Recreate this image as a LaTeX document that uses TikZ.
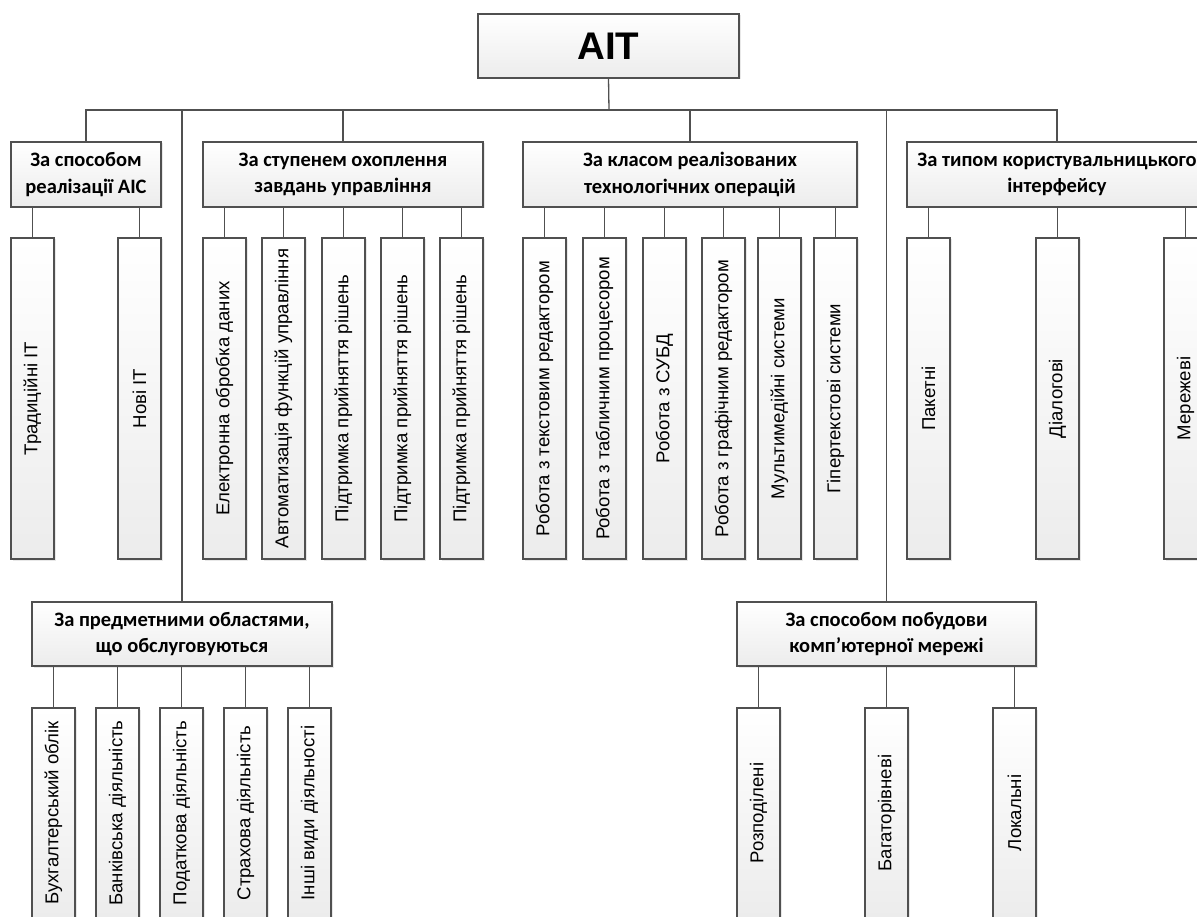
\documentclass[tikz,border=0pt]{standalone}
\usepackage{fontspec}
\setmainfont{Carlito}
\newfontfamily\aitfont{Liberation Sans}
\usetikzlibrary{shadows}
\definecolor{linec}{RGB}{80,80,80}
\definecolor{boxbot}{RGB}{236,236,236}
\begin{document}
\begin{tikzpicture}[x=1pt,y=-1pt,
  box/.style={draw=linec, line width=1.2pt, top color=white, bottom color=boxbot,
    drop shadow={shadow xshift=1.5pt, shadow yshift=-1.5pt, fill=black, opacity=0.09},
    inner sep=0pt, outer sep=0pt, anchor=north west},
  hdr/.style={box, font=\bfseries\fontsize{20.5}{26.8}\selectfont, align=center, minimum height=65pt},
  leaf/.style={box, minimum width=43pt, font=\aitfont\fontsize{18.6}{22}\selectfont},
  conn/.style={draw=linec, line width=1.3pt}]
\useasboundingbox (0,0) rectangle (1197,917);
\clip (0,0) rectangle (1197,917);

\node[box, minimum width=261pt, minimum height=64pt, font=\aitfont\bfseries\fontsize{38.5}{40}\selectfont] (ait) at (478,14) {АІТ};

\node[hdr, minimum width=150pt] (h1) at (11,142) {За способом\\реалізації АІС};
\node[hdr, minimum width=280pt] (h2) at (203,142) {За ступенем охоплення\\завдань управління};
\node[hdr, minimum width=334pt] (h3) at (523,142) {За класом реалізованих\\технологічних операцій};
\node[hdr, minimum width=300pt] (h4) at (907,142) {За типом користувальницького\\інтерфейсу};
\node[hdr, minimum width=300pt, minimum height=64pt] (b1) at (32,602) {За предметними областями,\\що обслуговуються};
\node[hdr, minimum width=299pt, minimum height=64pt] (b2) at (737,602) {За способом побудови\\комп’ютерної мережі};

\coordinate (bus) at (609,110);
\draw[conn] (ait.south) -- (bus);
\draw[conn] (h1.north) -- (h1.north |- bus) -- (h4.north |- bus) -- (h4.north);
\draw[conn] (h2.north) -- (h2.north |- bus);
\draw[conn] (h3.north) -- (h3.north |- bus);
\draw[conn] (b1.north) -- (b1.north |- bus);
\draw[conn] (b2.north) -- (b2.north |- bus);

\foreach \x/\t [count=\i] in {11/{Традиційні ІТ}, 118/{Нові ІТ}} {
  \node[leaf, minimum height=321pt] (g1-\i) at (\x,238) {\rotatebox{90}{\t}};
  \draw[conn] (g1-\i.north) -- (g1-\i.north |- h1.south);
}
\foreach \x/\t [count=\i] in {203/{Електронна обробка даних}, 262/{Автоматизація функцій управління}, 322/{Підтримка прийняття рішень}, 381/{Підтримка прийняття рішень}, 440/{Підтримка прийняття рішень}} {
  \node[leaf, minimum height=321pt] (g2-\i) at (\x,238) {\rotatebox{90}{\t}};
  \draw[conn] (g2-\i.north) -- (g2-\i.north |- h2.south);
}
\foreach \x/\t [count=\i] in {523/{Робота з текстовим редактором}, 583/{Робота з табличним процесором}, 643/{Робота з СУБД}, 702/{Робота з графічним редактором}, 758/{Мультимедійні системи}, 814/{Гіпертекстові системи}} {
  \node[leaf, minimum height=321pt] (g3-\i) at (\x,238) {\rotatebox{90}{\t}};
  \draw[conn] (g3-\i.north) -- (g3-\i.north |- h3.south);
}
\foreach \x/\t [count=\i] in {907/{Пакетні}, 1036/{Діалогові}, 1164/{Мережеві}} {
  \node[leaf, minimum height=321pt] (g4-\i) at (\x,238) {\rotatebox{90}{\t}};
  \draw[conn] (g4-\i.north) -- (g4-\i.north |- h4.south);
}
\foreach \x/\t [count=\i] in {32/{Бухгалтерський облік}, 96/{Банківська діяльність}, 160/{Податкова діяльність}, 224/{Страхова діяльність}, 288/{Інші види діяльності}} {
  \node[leaf, minimum height=210pt] (g5-\i) at (\x,708) {\rotatebox{90}{\t}};
  \draw[conn] (g5-\i.north) -- (g5-\i.north |- b1.south);
}
\foreach \x/\t [count=\i] in {737/{Розподілені}, 865/{Багаторівневі}, 993/{Локальні}} {
  \node[leaf, minimum height=210pt] (g6-\i) at (\x,708) {\rotatebox{90}{\t}};
  \draw[conn] (g6-\i.north) -- (g6-\i.north |- b2.south);
}
\end{tikzpicture}
\end{document}
